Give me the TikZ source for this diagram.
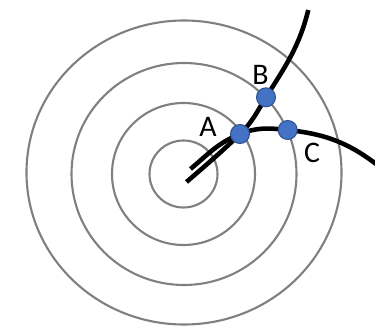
\documentclass[tikz,border=0pt]{standalone}
\usepackage{fontspec}
\setmainfont{Carlito}
\usetikzlibrary{positioning, backgrounds}
\definecolor{ringgray}{RGB}{128,128,128}
\definecolor{dotblue}{RGB}{68,114,196}
\definecolor{dotedge}{RGB}{47,82,143}
\tikzset{
  ring/.style={draw=ringgray, line width=1.2pt},
  ray/.style={draw=black, line width=2.6pt},
  dot/.style={
    circle, fill=dotblue, draw=dotedge, line width=0.6pt,
    minimum size=0.38cm, inner sep=0pt
  },
  lbl/.style={font=\fontsize{17}{20}\selectfont, inner sep=0pt}
}

\begin{document}
\begin{tikzpicture}[x=0.02cm, y=0.02cm]
  \useasboundingbox (0,0) rectangle (375,325);
  \node[dot] (A) at (240,191) {};
  \node[dot] (B) at (266,227.7) {};
  \node[dot] (C) at (287.7,195) {};
  \coordinate (s1) at (186.5,143);
  \coordinate (e1) at (308.3,315);
  \coordinate (s2) at (190.5,156);
  \coordinate (e2) at (380,158);

  \begin{scope}[on background layer]
    \draw[ring] (183.5,151) ellipse [x radius=34, y radius=33.5];
    \draw[ring] (183.5,151) ellipse [x radius=71.5, y radius=71];
    \draw[ring] (184,151) ellipse [x radius=112.5, y radius=111];
    \draw[ring] (184,152.5) ellipse [x radius=157.5, y radius=152];
    \draw[ray] (s1) to[out=41, in=224] (A.center) to[out=44, in=238] (B.center)
      to[out=58, in=256] (e1);
    \draw[ray] (s2) to[out=40, in=202] (A.center) to[out=22, in=174] (C.center)
      to[out=-6, in=142] (e2);
  \end{scope}

  \node[lbl, left=0.26cm of A, yshift=0.14cm] (la) {A};
  \node[lbl, above=0.04cm of B, xshift=-0.11cm] (lb) {B};
  \node[lbl, below right=0.12cm and 0.18cm of C] (lc) {C};
\end{tikzpicture}
\end{document}
